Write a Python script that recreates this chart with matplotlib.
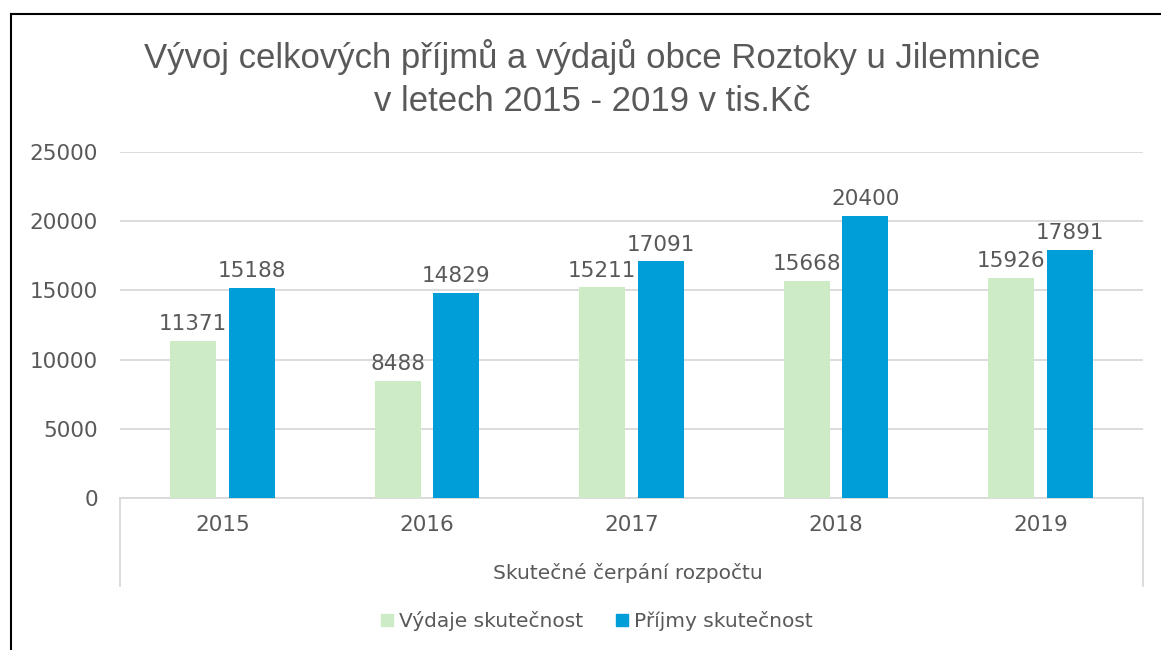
import matplotlib
matplotlib.use("Agg")
import matplotlib.pyplot as plt
import numpy as np
from matplotlib.lines import Line2D

years = ["2015", "2016", "2017", "2018", "2019"]
vydaje = [11371, 8488, 15211, 15668, 15926]
prijmy = [15188, 14829, 17091, 20400, 17891]
series_names = ["Výdaje skutečnost", "Příjmy skutečnost"]
title = "Vývoj celkových příjmů a výdajů obce Roztoky u Jilemnice\nv letech 2015 - 2019 v tis.Kč"
xlabel = "Skutečné čerpání rozpočtu"
yticks = [0, 5000, 10000, 15000, 20000, 25000]

GREEN = "#CDEBC5"
BLUE = "#009ED8"
TEXT = "#595959"
GRID = "#D9D9D9"
TFONT = "Liberation Sans"
FONT = "DejaVu Sans"
NUMSIZE = 15.5
TXTSIZE = 14.5

W, H = 1161, 650
fig = plt.figure(figsize=(W / 100, H / 100), dpi=100)
ax = fig.add_axes([120 / W, 1 - 498 / H, (1143 - 120) / W, (498 - 152) / H])

x = np.arange(len(years))
bw = 0.225
off = 0.143
b1 = ax.bar(x - off, vydaje, bw, color=GREEN, label=series_names[0], zorder=3)
b2 = ax.bar(x + off, prijmy, bw, color=BLUE, label=series_names[1], zorder=3)

for bars, vals in ((b1, vydaje), (b2, prijmy)):
    for r, v in zip(bars, vals):
        ax.annotate(str(v), (r.get_x() + r.get_width() / 2, v), xytext=(0, 5),
                    textcoords="offset points", ha="center", va="bottom",
                    fontsize=NUMSIZE, color=TEXT, family=FONT, zorder=4)

ax.set_xlim(-0.5, len(years) - 0.5)
ax.set_ylim(0, 25000)
ax.set_yticks(yticks)
ax.set_yticklabels([str(t) for t in yticks])
ax.yaxis.grid(True, color=GRID, linewidth=1.3, zorder=0)
ax.set_axisbelow(True)
for s in ("top", "right", "left"):
    ax.spines[s].set_visible(False)
ax.spines["bottom"].set_color(GRID)
ax.spines["bottom"].set_linewidth(1.3)
ax.tick_params(axis="y", length=0, pad=16, labelsize=NUMSIZE, labelcolor=TEXT)
ax.set_xticks(x)
ax.set_xticklabels(years)
ax.tick_params(axis="x", length=0, pad=12, labelsize=NUMSIZE, labelcolor=TEXT)
for lab in ax.get_xticklabels() + ax.get_yticklabels():
    lab.set_family(FONT)

# multi-level axis side lines
for xx in (-0.5, len(years) - 0.5):
    ax.plot([xx, xx], [0, -0.253], transform=ax.get_xaxis_transform(),
            color=GRID, linewidth=1.3, clip_on=False)

fig.text(628 / W, 1 - 573 / H, xlabel, ha="center", va="center",
         fontsize=TXTSIZE, color=TEXT, family=FONT)

fig.text(592 / W, 1 - 78.5 / H, title, ha="center", va="center",
         fontsize=25, color=TEXT, family=TFONT, linespacing=1.36)

handles = [plt.Rectangle((0, 0), 1, 1, color=GREEN), plt.Rectangle((0, 0), 1, 1, color=BLUE)]
leg = fig.legend(handles, series_names, loc="center", bbox_to_anchor=(597 / W, 1 - 621 / H),
                 ncol=2, frameon=False, handlelength=0.6, handleheight=0.6,
                 handletextpad=0.3, columnspacing=1.6,
                 prop={"family": FONT, "size": TXTSIZE})
for t in leg.get_texts():
    t.set_color(TEXT)

# figure border (left and top)
fig.add_artist(Line2D([11 / W, 11 / W], [0, 1 - 14 / H], transform=fig.transFigure, color="black", linewidth=1.5))
fig.add_artist(Line2D([11 / W, 1], [1 - 14 / H, 1 - 14 / H], transform=fig.transFigure, color="black", linewidth=1.5))

fig.savefig("out.png", dpi=100)
